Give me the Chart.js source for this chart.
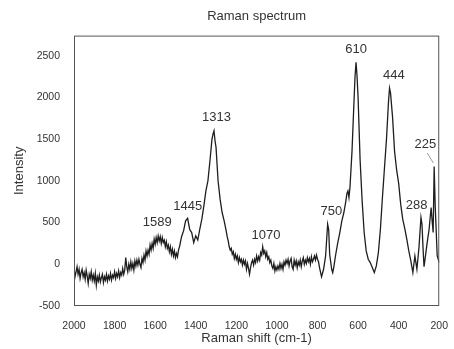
<!DOCTYPE html>
<html lang="en">
<head>
<meta charset="UTF-8">
<title>Raman spectrum</title>
<style>
  html, body { margin: 0; padding: 0; background: #fff; }
  #wrap { width: 454px; height: 349px; }
</style>
</head>
<body>
<div id="wrap"><canvas id="myChart"></canvas></div>
<script src="https://cdn.jsdelivr.net/npm/chart.js"></script>
<script>
// Raman shift (cm-1) and intensity, in four pieces
// noisy baseline 2000-1480
const shiftA = [
  2000,1995,1990,1985,1980,1975,1970,1965,1960,1955,
  1950,1945,1940,1935,1930,1925,1920,1915,1910,1905,
  1900,1895,1890,1885,1880,1875,1870,1865,1860,1855,
  1850,1845,1840,1835,1830,1825,1820,1815,1810,1805,
  1800,1795,1790,1785,1780,1775,1770,1765,1760,1755,
  1750,1745,1740,1735,1730,1725,1720,1715,1710,1705,
  1700,1695,1690,1685,1680,1675,1670,1665,1660,1655,
  1650,1645,1640,1635,1630,1625,1620,1615,1610,1605,
  1600,1595,1590,1585,1580,1575,1570,1565,1560,1555,
  1550,1545,1540,1535,1530,1525,1520,1515,1510,1505,
  1500,1495,1490,1485,1480
];
const intensityA = [
  -40,-150,-90,-30,-120,-60,-170,-100,-60,-150,
  -100,-180,-70,-140,-230,-120,-170,-90,-190,-130,
  -200,-110,-250,-150,-200,-130,-210,-160,-120,-220,
  -150,-190,-120,-200,-140,-180,-110,-190,-130,-160,
  -90,-170,-110,-150,-80,-160,-100,-130,-50,-120,
  -70,80,-30,-90,0,-60,30,-50,10,-70,
  40,-20,50,-10,60,0,-40,70,20,110,
  50,160,100,170,120,230,170,250,190,300,
  240,320,260,340,280,330,250,320,260,290,
  210,270,190,230,150,210,120,180,100,160,
  80,130,90,170,210
];
// 1445 and 1313 bands
const shiftB = [
  1470,1460,1450,1440,1430,1420,1410,1400,1390,1380,
  1370,1360,1350,1340,1330,1320,1315,1310,1305,1300,
  1290,1280,1270,1260
];
const intensityB = [
  330,400,520,550,420,380,260,340,290,420,
  540,700,880,1000,1240,1500,1560,1600,1480,1400,
  1000,780,620,520
];
// baseline with 1070 band, 1250-790
const shiftC = [
  1250,1245,1240,1235,1230,1225,1220,1215,1210,1205,
  1200,1195,1190,1185,1180,1175,1170,1165,1160,1155,
  1150,1145,1140,1135,1130,1125,1120,1115,1110,1105,
  1100,1095,1090,1085,1080,1075,1070,1065,1060,1055,
  1050,1045,1040,1035,1030,1025,1020,1015,1010,1005,
  1000,995,990,985,980,975,970,965,960,955,
  950,945,940,935,930,925,920,915,910,905,
  900,895,890,885,880,875,870,865,860,855,
  850,845,840,835,830,825,820,815,810,805,
  800,795,790
];
const intensityC = [
  400,330,280,210,170,190,120,150,70,120,
  60,100,20,80,30,60,-10,50,0,40,
  -60,10,-50,-120,-40,20,50,-10,60,20,
  100,40,90,50,140,110,210,130,160,90,
  140,60,90,20,50,-20,-50,10,-80,-30,
  -70,-20,-60,10,-50,0,-60,30,-10,50,
  10,60,-20,40,70,-30,-60,50,-10,40,
  -40,30,-10,50,-30,40,80,0,50,10,
  80,30,70,0,90,30,60,100,50,110,
  60,30,-40
];
// low-wavenumber bands 780-200
const shiftD = [
  780,770,760,750,745,740,730,725,720,710,
  700,690,680,670,660,655,650,645,640,630,
  620,615,610,605,600,590,580,570,560,550,
  540,530,520,510,500,490,480,470,460,450,
  445,440,430,420,410,400,390,380,370,360,
  350,340,330,325,320,315,310,300,290,285,
  280,275,270,260,250,240,235,230,225,220,
  210,200
];
const intensityD = [
  -150,-60,100,480,420,120,-60,-100,-40,120,
  260,380,520,620,760,850,880,800,920,1350,
  1960,2250,2420,2250,2000,1250,760,380,160,60,
  20,-40,-100,-20,140,420,800,1150,1500,1950,
  2110,2050,1760,1350,1130,970,720,540,430,300,
  160,40,-100,0,100,20,-60,200,560,480,
  200,-30,60,250,420,680,520,380,1170,700,
  100,20
];

// peak labels, placed in data units
const peakLabels = ['1589','1445','1313','1070','750','610','444','288','225'];
const labelShift = [1590,1439,1298,1054,732,610,424,312,268];
const labelIntensity = [500,690,1762,345,631,2571,2262,702,1440];

const yTicks = [-500,0,500,1000,1500,2000,2500];

const shift = shiftA.concat(shiftB, shiftC, shiftD);
const intensity = intensityA.concat(intensityB, intensityC, intensityD);
const points = shift.map((s, i) => ({x: s, y: intensity[i]}));

const boxAndLabels = {
  id: 'boxAndLabels',
  afterDatasetsDraw(chart) {
    const {ctx, chartArea: a, scales: {x, y}} = chart;
    ctx.save();
    ctx.strokeStyle = '#555';
    ctx.lineWidth = 1;
    ctx.strokeRect(a.left + 0.5, a.top + 0.5, a.right - a.left - 1, a.bottom - a.top - 1);
    ctx.fillStyle = '#333';
    ctx.font = '13px "Liberation Sans", Arial, sans-serif';
    ctx.textAlign = 'center';
    ctx.textBaseline = 'middle';
    peakLabels.forEach((t, i) => {
      ctx.fillText(t, x.getPixelForValue(labelShift[i]), y.getPixelForValue(labelIntensity[i]));
    });
    // leader line for 225
    ctx.strokeStyle = '#999';
    ctx.beginPath();
    ctx.moveTo(x.getPixelForValue(259), y.getPixelForValue(1333));
    ctx.lineTo(x.getPixelForValue(229), y.getPixelForValue(1214));
    ctx.stroke();
    ctx.restore();
  }
};

const font = { family: '"Liberation Sans", Arial, sans-serif' };

const ctx = document.getElementById('myChart');
new Chart(ctx, {
  type: 'line',
  data: {
    datasets: [{
      data: points,
      borderColor: '#1e1e1e',
      borderWidth: 1.3,
      pointRadius: 0,
      tension: 0,
      fill: false
    }]
  },
  options: {
    responsive: true,
    maintainAspectRatio: false,
    animation: false,
    layout: { padding: { left: 0, right: 11, top: 0, bottom: 0 } },
    plugins: {
      legend: { display: false },
      tooltip: { enabled: false },
      title: {
        display: true,
        text: 'Raman spectrum',
        fullSize: false,
        color: '#333',
        font: { ...font, size: 13, weight: 'normal' },
        padding: { top: 9, bottom: 11 }
      }
    },
    scales: {
      x: {
        type: 'linear',
        reverse: true,
        min: 200,
        max: 2000,
        afterFit: s => { s.height = 43; },
        grid: { display: false },
        border: { display: false },
        ticks: {
          stepSize: 200,
          color: '#333',
          padding: 6,
          maxRotation: 0,
          font: { ...font, size: 10.5 },
          callback: v => String(v)
        },
        title: {
          display: true,
          text: 'Raman shift (cm-1)',
          color: '#333',
          font: { ...font, size: 13 },
          padding: { top: 0, bottom: 3 }
        }
      },
      y: {
        min: -500,
        max: 2740,
        afterFit: s => { s.width = 74; },
        afterBuildTicks: s => { s.ticks = yTicks.map(v => ({value: v})); },
        grid: { display: false },
        border: { display: false },
        ticks: {
          color: '#333',
          padding: 6,
          font: { ...font, size: 10.5 },
          callback: v => String(v)
        },
        title: {
          display: true,
          text: 'Intensity',
          color: '#333',
          font: { ...font, size: 13 },
          padding: { top: 12, bottom: 4 }
        }
      }
    }
  },
  plugins: [boxAndLabels]
});
</script>
</body>
</html>
